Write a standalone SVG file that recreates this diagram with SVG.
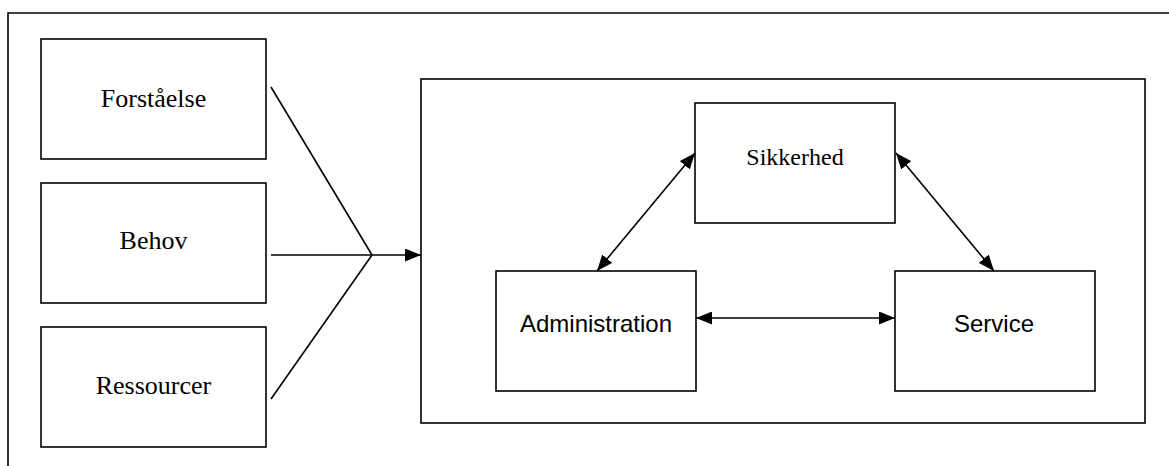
<svg xmlns="http://www.w3.org/2000/svg" width="1169" height="466" viewBox="0 0 1169 466">
<defs>
<style>
.box{fill:#fff;stroke:#000;stroke-width:1.6}
.ln{fill:none;stroke:#000;stroke-width:1.6}
.tr{font-family:"Liberation Serif","Times New Roman",serif;font-size:26px;text-anchor:middle;fill:#000}
.ts{font-family:"Liberation Serif","Times New Roman",serif;font-size:24px;text-anchor:middle;fill:#000}
.ta{font-family:"Liberation Sans",Arial,sans-serif;font-size:24px;text-anchor:middle;fill:#000}
</style>
<marker id="ah" markerUnits="userSpaceOnUse" markerWidth="16" markerHeight="13" refX="16" refY="6.5" orient="auto-start-reverse" viewBox="0 0 16 13">
<path d="M0,0 L16,6.5 L0,13 z" fill="#000"/>
</marker>
</defs>
<rect width="1169" height="466" fill="#fff"/>
<path class="ln" d="M8,466 V13 H1169"/>
<g id="container"><rect class="box" x="421" y="79" width="724" height="344"/></g>
<g id="forstaaelse"><rect class="box" x="41" y="39" width="225" height="120"/><text class="tr" x="153.5" y="107">Forståelse</text></g>
<g id="behov"><rect class="box" x="41" y="183" width="225" height="120"/><text class="tr" x="153.5" y="249">Behov</text></g>
<g id="ressourcer"><rect class="box" x="41" y="327" width="225" height="120"/><text class="tr" x="153.5" y="394">Ressourcer</text></g>
<g id="sikkerhed"><rect class="box" x="695" y="103" width="200" height="120"/><text class="ts" x="795" y="165">Sikkerhed</text></g>
<g id="administration"><rect class="box" x="496" y="271" width="200" height="120"/><text class="ta" x="596" y="332">Administration</text></g>
<g id="service"><rect class="box" x="895" y="271" width="200" height="120"/><text class="ta" x="994" y="332">Service</text></g>
<g id="connectors">
<path class="ln" d="M271,87 L372,255"/>
<path class="ln" d="M271,399 L372,255"/>
<path class="ln" d="M271,255 L421,255" marker-end="url(#ah)"/>
<path class="ln" d="M695,153 L597,271" marker-start="url(#ah)" marker-end="url(#ah)"/>
<path class="ln" d="M896,153 L994,271" marker-start="url(#ah)" marker-end="url(#ah)"/>
<path class="ln" d="M696,318 L895,318" marker-start="url(#ah)" marker-end="url(#ah)"/>
</g>
</svg>
